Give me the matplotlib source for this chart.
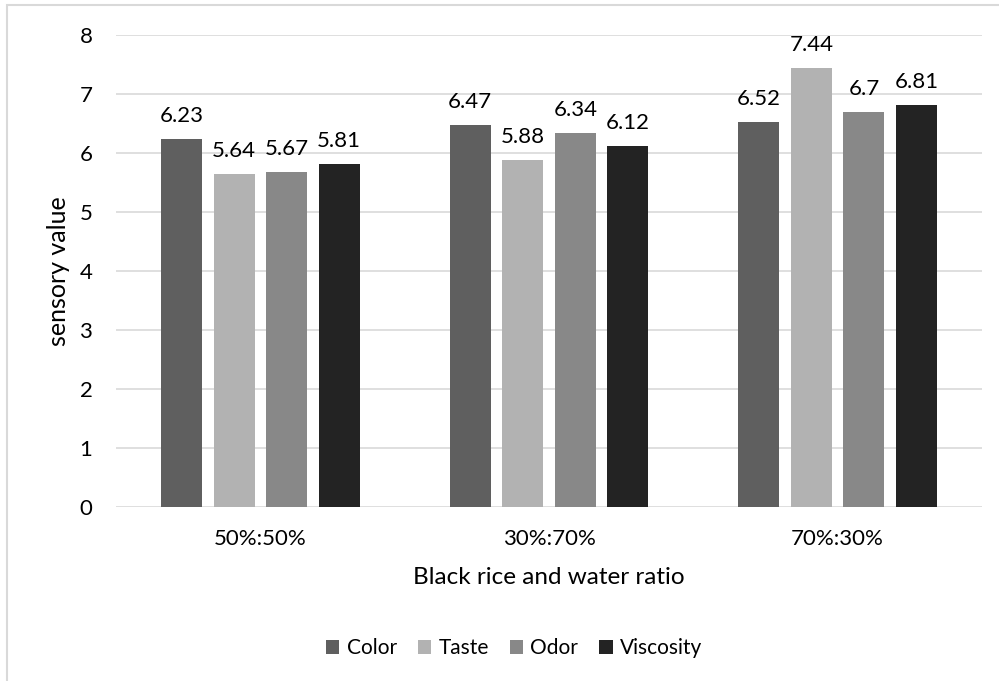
import matplotlib.pyplot as plt
import numpy as np
from matplotlib.patches import Rectangle

plt.rcParams['font.family'] = ['Lato', 'DejaVu Sans']

groups = ['50%:50%', '30%:70%', '70%:30%']
series = ['Color', 'Taste', 'Odor', 'Viscosity']
values = {
    'Color': [6.23, 6.47, 6.52],
    'Taste': [5.64, 5.88, 7.44],
    'Odor': [5.67, 6.34, 6.7],
    'Viscosity': [5.81, 6.12, 6.81],
}
colors = ['#5f5f5f', '#b2b2b2', '#888888', '#232323']

fig = plt.figure(figsize=(9.99, 6.81), dpi=100)
W, H = 999, 681
ax = fig.add_axes([116 / W, 1 - 507 / H, (982 - 116) / W, (507 - 35) / H])

# chart border (cut off on right and bottom like the source)
fig.patches.append(Rectangle((7 / W, -0.05), 1.2, 1 - 5 / H + 0.05,
                             transform=fig.transFigure, fill=False,
                             edgecolor='#d9d9d9', linewidth=1.5))

x = np.arange(len(groups))
slot = 0.182
width = 0.142
for i, s in enumerate(series):
    pos = x + (i - 1.5) * slot
    bars = ax.bar(pos, values[s], width, color=colors[i], label=s, zorder=3)
    for b, v in zip(bars, values[s]):
        ax.text(b.get_x() + b.get_width() / 2, v + 0.22, f'{v:g}',
                ha='center', va='bottom', fontsize=16)

ax.set_xlim(-0.5, 2.5)
ax.set_ylim(0, 8)
ax.set_yticks(range(0, 9))
ax.set_xticks(x)
ax.set_xticklabels(groups)
ax.tick_params(length=0, labelsize=16, colors='#000000')
ax.tick_params(axis='y', pad=17)
ax.tick_params(axis='x', pad=16)
ax.grid(axis='y', color='#d9d9d9', linewidth=1.2, zorder=0)
for sp in ax.spines.values():
    sp.set_visible(False)

ax.set_ylabel('sensory value', fontsize=18, va='center')
ax.yaxis.set_label_coords(-0.066, 0.5)
ax.set_xlabel('Black rice and water ratio', fontsize=17.5, va='center')
ax.xaxis.set_label_coords(0.5, -0.150)

ax.legend(loc='center', bbox_to_anchor=(514 / W, 1 - 648 / H),
          bbox_transform=fig.transFigure, ncol=4, frameon=False,
          fontsize=15, handlelength=0.65, handleheight=0.65,
          handletextpad=0.35, columnspacing=1.0)

fig.savefig('out.png', dpi=100)
